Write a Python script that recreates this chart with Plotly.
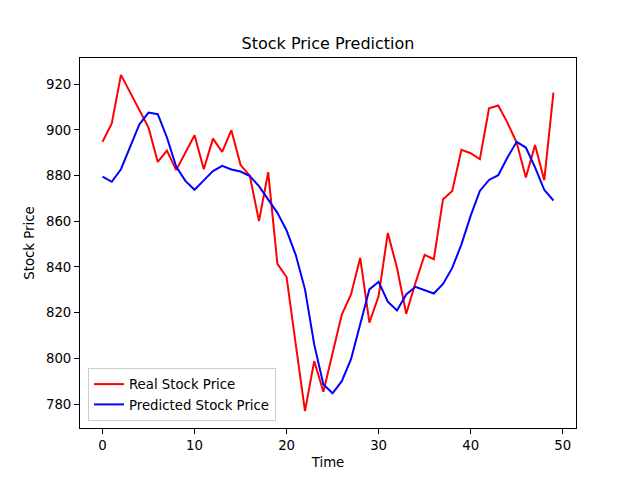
import plotly.graph_objects as go

time = list(range(50))
real_price = [894.8, 902.8, 924.1, 916.4, 909.0, 901.0, 886.0, 891.0, 882.4, 890.0,
              897.7, 882.8, 896.2, 890.4, 899.9, 884.6, 880.0, 860.1, 881.5, 841.4,
              835.6, 806.0, 776.9, 798.8, 785.4, 802.3, 819.2, 828.0, 844.0, 815.6,
              827.3, 854.9, 839.6, 819.5, 833.0, 845.3, 843.4, 869.7, 873.3, 891.3,
              889.8, 887.2, 909.5, 910.7, 903.2, 894.5, 879.2, 893.4, 878.0, 916.4]
pred_price = [879.6, 877.3, 882.8, 892.3, 902.4, 907.6, 906.9, 896.7, 884.0, 877.7,
              873.8, 877.9, 882.0, 884.3, 882.7, 881.8, 879.8, 875.4, 869.5, 863.7,
              856.0, 845.2, 830.2, 806.1, 788.6, 784.7, 790.0, 799.6, 814.9, 830.2,
              833.5, 824.8, 821.0, 828.0, 831.3, 829.7, 828.4, 832.6, 839.6, 849.9,
              862.4, 873.3, 878.1, 880.2, 887.9, 894.8, 892.3, 883.6, 873.8, 869.1]
x_ticks = [0, 10, 20, 30, 40, 50]
y_ticks = [780, 800, 820, 840, 860, 880, 900, 920]

FONT = "DejaVu Sans"
FS = 13.3

fig = go.Figure()
fig.add_trace(go.Scatter(x=time, y=real_price, mode="lines", name="Real Stock Price",
                         line=dict(color="#ff0000", width=2)))
fig.add_trace(go.Scatter(x=time, y=pred_price, mode="lines", name="Predicted Stock Price",
                         line=dict(color="#0000ff", width=2)))

axis_common = dict(showline=True, linecolor="black", linewidth=1, mirror=True,
                   ticks="outside", ticklen=5, tickwidth=1, tickcolor="black",
                   showgrid=False, zeroline=False, automargin=False,
                   tickfont=dict(family=FONT, size=FS, color="black"))

# the page's default 8px body margin offsets the figure, so margins are compensated
fig.update_layout(
    width=640, height=480,
    margin=dict(l=72, r=72, t=50, b=60, autoexpand=False),
    paper_bgcolor="white", plot_bgcolor="white",
    font=dict(family=FONT, size=FS, color="black"),
    title=dict(text="Stock Price Prediction", x=(72 + 248) / 640, xanchor="center",
               y=1 - 35 / 480, yanchor="middle", automargin=False,
               font=dict(family=FONT, size=16, color="black")),
    xaxis=dict(range=[-2.45, 51.45], tickvals=x_ticks,
               title=dict(text="Time", font=dict(family=FONT, size=FS), standoff=5),
               **axis_common),
    yaxis=dict(range=[769.5, 931.5], tickvals=y_ticks,
               title=dict(text="Stock Price", font=dict(family=FONT, size=FS), standoff=8),
               **axis_common),
    legend=dict(x=0.016, y=0.019, xanchor="left", yanchor="bottom",
                bgcolor="rgba(255,255,255,0.8)", bordercolor="#cccccc", borderwidth=1,
                font=dict(family=FONT, size=FS, color="black"),
                itemwidth=30, tracegroupgap=0),
    showlegend=True,
)

fig.write_html("out.html")
